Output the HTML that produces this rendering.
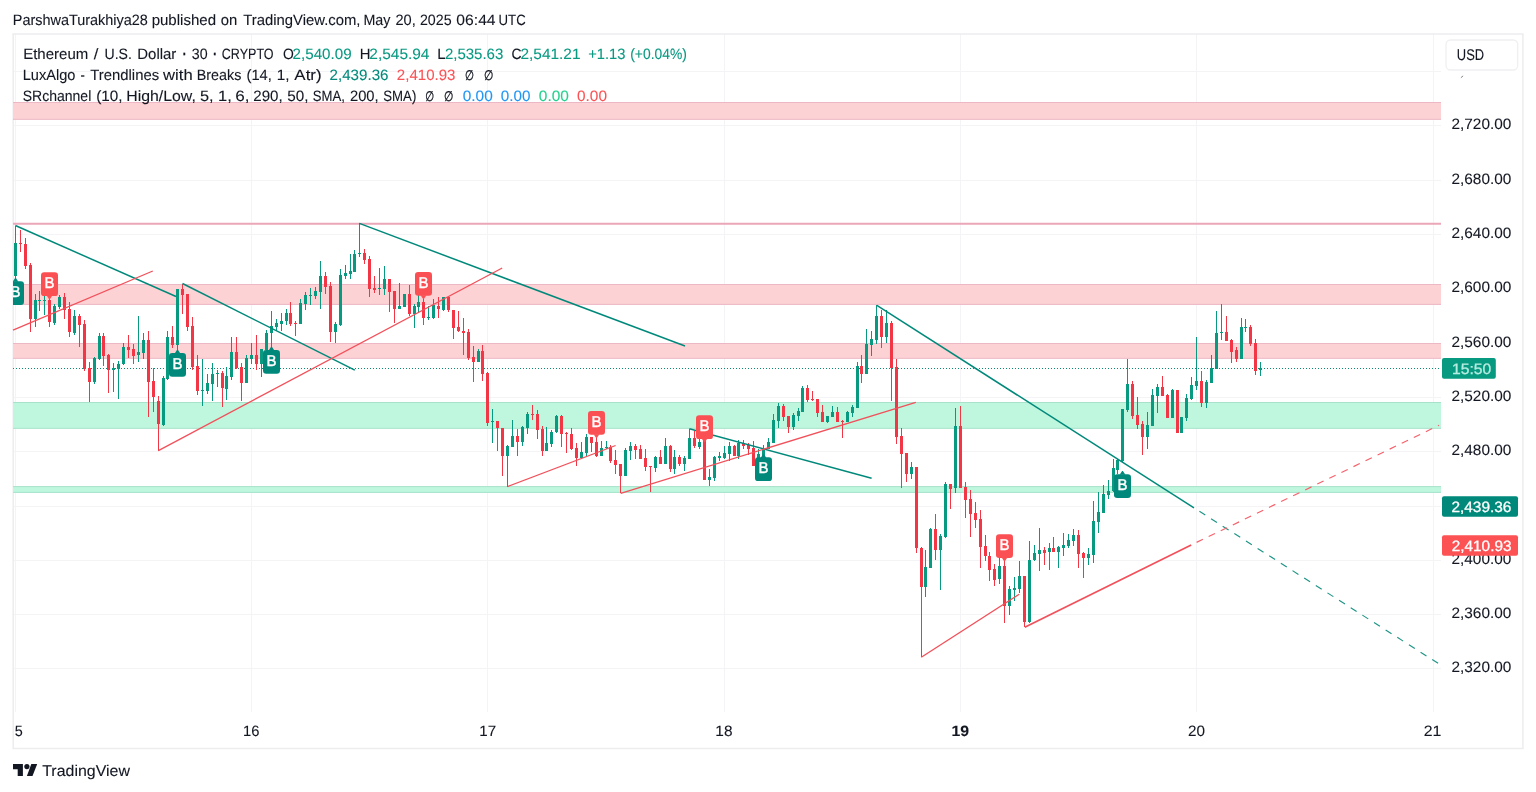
<!DOCTYPE html><html><head><meta charset="utf-8"><title>ETHUSD chart</title>
<style>html,body{margin:0;padding:0;background:#fff;width:1536px;height:792px;overflow:hidden}svg{display:block}text{font-family:"Liberation Sans",sans-serif;font-size:15px;fill:#131722;text-rendering:geometricPrecision}.ax{font-size:14px}</style></head><body>
<svg width="1536" height="792" viewBox="0 0 1536 792">
<rect width="1536" height="792" fill="#fff"/>
<g stroke="#f4f4f6" stroke-width="1" fill="none">
<line x1="13" y1="71.5" x2="1441" y2="71.5"/>
<line x1="13" y1="125.5" x2="1441" y2="125.5"/>
<line x1="13" y1="180.5" x2="1441" y2="180.5"/>
<line x1="13" y1="234.5" x2="1441" y2="234.5"/>
<line x1="13" y1="288.5" x2="1441" y2="288.5"/>
<line x1="13" y1="343.5" x2="1441" y2="343.5"/>
<line x1="13" y1="397.5" x2="1441" y2="397.5"/>
<line x1="13" y1="451.5" x2="1441" y2="451.5"/>
<line x1="13" y1="506.5" x2="1441" y2="506.5"/>
<line x1="13" y1="560.5" x2="1441" y2="560.5"/>
<line x1="13" y1="614.5" x2="1441" y2="614.5"/>
<line x1="13" y1="668.5" x2="1441" y2="668.5"/>
<line x1="15.5" y1="34" x2="15.5" y2="712"/>
<line x1="251.5" y1="34" x2="251.5" y2="712"/>
<line x1="487.5" y1="34" x2="487.5" y2="712"/>
<line x1="724.5" y1="34" x2="724.5" y2="712"/>
<line x1="960.5" y1="34" x2="960.5" y2="712"/>
<line x1="1196.5" y1="34" x2="1196.5" y2="712"/>
<line x1="1433.5" y1="34" x2="1433.5" y2="712"/>
</g>
<g stroke="#ededf0" stroke-width="1.5" fill="none"><line x1="12.4" y1="34.1" x2="1523.6" y2="34.1"/><line x1="13.2" y1="34" x2="13.2" y2="748"/><line x1="1522.9" y1="34" x2="1522.9" y2="748.5"/><line x1="12.4" y1="748.4" x2="1523.6" y2="748.4"/></g>
<rect x="13" y="102.2" width="1428" height="17.4" fill="#fdd2d4"/>
<path d="M13 102.5H1441M13 119.3H1441" stroke="#ecb8c5" stroke-width="1"/>
<rect x="13" y="284.2" width="1428" height="20.5" fill="#fdd2d4"/>
<path d="M13 284.5H1441M13 304.4H1441" stroke="#ecb8c5" stroke-width="1"/>
<rect x="13" y="343.2" width="1428" height="15.4" fill="#fdd2d4"/>
<path d="M13 343.5H1441M13 358.3H1441" stroke="#ecb8c5" stroke-width="1"/>
<rect x="13" y="402.2" width="1428" height="26.4" fill="#bef7de"/>
<path d="M13 402.5H1441M13 428.3H1441" stroke="#a8e2cb" stroke-width="1"/>
<rect x="13" y="486.3" width="1428" height="6.4" fill="#bef7de"/>
<path d="M13 486.6H1441M13 492.4H1441" stroke="#a8e2cb" stroke-width="1"/>
<line x1="13" y1="223.8" x2="1441" y2="223.8" stroke="#eba6b8" stroke-width="1.9"/>
<line x1="13" y1="368.5" x2="1441" y2="368.5" stroke="#0b8a74" stroke-width="1" stroke-dasharray="1 2"/>
<path d="M15 226h1V243h-1zM15 276h1V279h-1zM14 243h3V276h-3z" fill="#089981"/>
<path d="M20 230h1V243h-1zM20 244h1V252h-1zM19 243h3V244h-3z" fill="#f23645"/>
<path d="M25 238h1V244h-1zM25 266h1V269h-1zM24 244h3V266h-3z" fill="#f23645"/>
<path d="M30 263h1V265h-1zM30 319h1V332h-1zM29 265h3V319h-3z" fill="#f23645"/>
<path d="M35 294h1V300h-1zM35 319h1V327h-1zM34 300h3V319h-3z" fill="#089981"/>
<path d="M39 291h1V300h-1zM39 301h1V311h-1zM38 300h3V301h-3z" fill="#089981"/>
<path d="M44 295h1V300h-1zM44 301h1V315h-1zM43 300h3V301h-3z" fill="#089981"/>
<path d="M49 297h1V300h-1zM49 322h1V327h-1zM48 300h3V322h-3z" fill="#f23645"/>
<path d="M54 304h1V306h-1zM54 323h1V325h-1zM53 306h3V323h-3z" fill="#089981"/>
<path d="M59 295h1V297h-1zM59 307h1V309h-1zM58 297h3V307h-3z" fill="#089981"/>
<path d="M64 293h1V297h-1zM64 310h1V319h-1zM63 297h3V310h-3z" fill="#f23645"/>
<path d="M69 302h1V309h-1zM69 332h1V337h-1zM68 309h3V332h-3z" fill="#f23645"/>
<path d="M74 310h1V316h-1zM74 333h1V335h-1zM73 316h3V333h-3z" fill="#089981"/>
<path d="M79 314h1V316h-1zM79 325h1V347h-1zM78 316h3V325h-3z" fill="#f23645"/>
<path d="M84 320h1V324h-1zM84 369h1V371h-1zM83 324h3V369h-3z" fill="#f23645"/>
<path d="M89 362h1V368h-1zM89 382h1V402h-1zM88 368h3V382h-3z" fill="#f23645"/>
<path d="M94 357h1V358h-1zM94 382h1V384h-1zM93 358h3V382h-3z" fill="#089981"/>
<path d="M99 333h1V336h-1zM99 359h1V360h-1zM98 336h3V359h-3z" fill="#089981"/>
<path d="M103 333h1V336h-1zM103 356h1V366h-1zM102 336h3V356h-3z" fill="#f23645"/>
<path d="M108 354h1V355h-1zM108 370h1V393h-1zM107 355h3V370h-3z" fill="#f23645"/>
<path d="M113 363h1V368h-1zM113 370h1V392h-1zM112 368h3V370h-3z" fill="#089981"/>
<path d="M118 361h1V364h-1zM118 369h1V399h-1zM117 364h3V369h-3z" fill="#089981"/>
<path d="M123 343h1V347h-1zM123 364h1V365h-1zM122 347h3V364h-3z" fill="#089981"/>
<path d="M128 335h1V347h-1zM128 350h1V358h-1zM127 347h3V350h-3z" fill="#f23645"/>
<path d="M133 344h1V349h-1zM133 356h1V364h-1zM132 349h3V356h-3z" fill="#f23645"/>
<path d="M138 316h1V352h-1zM138 355h1V362h-1zM137 352h3V355h-3z" fill="#089981"/>
<path d="M143 333h1V340h-1zM143 353h1V359h-1zM142 340h3V353h-3z" fill="#089981"/>
<path d="M148 331h1V340h-1zM148 382h1V417h-1zM147 340h3V382h-3z" fill="#f23645"/>
<path d="M153 368h1V381h-1zM153 397h1V412h-1zM152 381h3V397h-3z" fill="#f23645"/>
<path d="M158 396h1V401h-1zM158 424h1V451h-1zM157 401h3V424h-3z" fill="#f23645"/>
<path d="M163 376h1V378h-1zM163 425h1V426h-1zM162 378h3V425h-3z" fill="#089981"/>
<path d="M167 331h1V337h-1zM167 379h1V380h-1zM166 337h3V379h-3z" fill="#089981"/>
<path d="M172 326h1V337h-1zM172 345h1V348h-1zM171 337h3V345h-3z" fill="#f23645"/>
<path d="M177 345h1V351h-1zM176 289h3V345h-3z" fill="#089981"/>
<path d="M182 284h1V289h-1zM182 295h1V314h-1zM181 289h3V295h-3z" fill="#f23645"/>
<path d="M187 327h1V331h-1zM186 294h3V327h-3z" fill="#f23645"/>
<path d="M192 317h1V326h-1zM192 367h1V370h-1zM191 326h3V367h-3z" fill="#f23645"/>
<path d="M197 355h1V366h-1zM197 391h1V395h-1zM196 366h3V391h-3z" fill="#f23645"/>
<path d="M202 359h1V390h-1zM202 391h1V406h-1zM201 390h3V391h-3z" fill="#089981"/>
<path d="M207 374h1V383h-1zM207 391h1V394h-1zM206 383h3V391h-3z" fill="#089981"/>
<path d="M212 363h1V374h-1zM212 384h1V401h-1zM211 374h3V384h-3z" fill="#089981"/>
<path d="M217 370h1V373h-1zM217 374h1V387h-1zM216 373h3V374h-3z" fill="#089981"/>
<path d="M222 371h1V373h-1zM222 388h1V407h-1zM221 373h3V388h-3z" fill="#f23645"/>
<path d="M226 367h1V376h-1zM226 389h1V400h-1zM225 376h3V389h-3z" fill="#089981"/>
<path d="M231 337h1V352h-1zM231 377h1V380h-1zM230 352h3V377h-3z" fill="#089981"/>
<path d="M236 337h1V352h-1zM236 368h1V369h-1zM235 352h3V368h-3z" fill="#f23645"/>
<path d="M241 363h1V367h-1zM241 383h1V401h-1zM240 367h3V383h-3z" fill="#f23645"/>
<path d="M246 355h1V358h-1zM245 358h3V383h-3z" fill="#089981"/>
<path d="M251 343h1V355h-1zM251 359h1V364h-1zM250 355h3V359h-3z" fill="#089981"/>
<path d="M256 335h1V355h-1zM256 364h1V370h-1zM255 355h3V364h-3z" fill="#f23645"/>
<path d="M261 364h1V377h-1zM260 349h3V364h-3z" fill="#089981"/>
<path d="M266 330h1V333h-1zM266 350h1V351h-1zM265 333h3V350h-3z" fill="#089981"/>
<path d="M271 311h1V326h-1zM271 333h1V348h-1zM270 326h3V333h-3z" fill="#089981"/>
<path d="M276 319h1V323h-1zM276 327h1V331h-1zM275 323h3V327h-3z" fill="#089981"/>
<path d="M281 313h1V321h-1zM281 324h1V331h-1zM280 321h3V324h-3z" fill="#089981"/>
<path d="M286 309h1V313h-1zM286 321h1V325h-1zM285 313h3V321h-3z" fill="#089981"/>
<path d="M290 302h1V313h-1zM290 324h1V326h-1zM289 313h3V324h-3z" fill="#f23645"/>
<path d="M295 321h1V323h-1zM295 324h1V336h-1zM294 323h3V324h-3z" fill="#f23645"/>
<path d="M300 299h1V303h-1zM299 303h3V324h-3z" fill="#089981"/>
<path d="M305 292h1V295h-1zM305 304h1V310h-1zM304 295h3V304h-3z" fill="#089981"/>
<path d="M310 288h1V295h-1zM310 296h1V305h-1zM309 295h3V296h-3z" fill="#089981"/>
<path d="M315 287h1V291h-1zM315 296h1V299h-1zM314 291h3V296h-3z" fill="#089981"/>
<path d="M320 261h1V276h-1zM320 292h1V309h-1zM319 276h3V292h-3z" fill="#089981"/>
<path d="M325 272h1V276h-1zM325 287h1V294h-1zM324 276h3V287h-3z" fill="#f23645"/>
<path d="M330 282h1V286h-1zM330 332h1V342h-1zM329 286h3V332h-3z" fill="#f23645"/>
<path d="M335 322h1V324h-1zM335 332h1V343h-1zM334 324h3V332h-3z" fill="#089981"/>
<path d="M340 269h1V275h-1zM340 325h1V326h-1zM339 275h3V325h-3z" fill="#089981"/>
<path d="M345 265h1V273h-1zM345 276h1V279h-1zM344 273h3V276h-3z" fill="#089981"/>
<path d="M350 254h1V271h-1zM350 274h1V279h-1zM349 271h3V274h-3z" fill="#089981"/>
<path d="M354 250h1V254h-1zM353 254h3V272h-3z" fill="#089981"/>
<path d="M359 223h1V253h-1zM359 254h1V257h-1zM358 253h3V254h-3z" fill="#089981"/>
<path d="M364 249h1V253h-1zM364 260h1V264h-1zM363 253h3V260h-3z" fill="#f23645"/>
<path d="M369 256h1V259h-1zM369 289h1V297h-1zM368 259h3V289h-3z" fill="#f23645"/>
<path d="M374 276h1V288h-1zM374 290h1V293h-1zM373 288h3V290h-3z" fill="#f23645"/>
<path d="M379 268h1V288h-1zM379 289h1V295h-1zM378 288h3V289h-3z" fill="#089981"/>
<path d="M384 266h1V279h-1zM384 289h1V295h-1zM383 279h3V289h-3z" fill="#089981"/>
<path d="M389 292h1V312h-1zM388 279h3V292h-3z" fill="#f23645"/>
<path d="M394 309h1V323h-1zM393 291h3V309h-3z" fill="#f23645"/>
<path d="M399 283h1V306h-1zM398 306h3V309h-3z" fill="#089981"/>
<path d="M403 294h3V307h-3z" fill="#089981"/>
<path d="M409 285h1V294h-1zM409 314h1V316h-1zM408 294h3V314h-3z" fill="#f23645"/>
<path d="M414 304h1V306h-1zM414 314h1V328h-1zM413 306h3V314h-3z" fill="#089981"/>
<path d="M418 294h1V302h-1zM418 307h1V313h-1zM417 302h3V307h-3z" fill="#089981"/>
<path d="M423 299h1V302h-1zM423 318h1V325h-1zM422 302h3V318h-3z" fill="#f23645"/>
<path d="M428 306h1V317h-1zM428 318h1V320h-1zM427 317h3V318h-3z" fill="#089981"/>
<path d="M433 299h1V305h-1zM433 318h1V319h-1zM432 305h3V318h-3z" fill="#089981"/>
<path d="M438 297h1V306h-1zM438 309h1V318h-1zM437 306h3V309h-3z" fill="#f23645"/>
<path d="M443 310h1V311h-1zM442 297h3V310h-3z" fill="#089981"/>
<path d="M448 296h1V297h-1zM448 310h1V312h-1zM447 297h3V310h-3z" fill="#f23645"/>
<path d="M453 328h1V339h-1zM452 310h3V328h-3z" fill="#f23645"/>
<path d="M458 311h1V327h-1zM458 331h1V332h-1zM457 327h3V331h-3z" fill="#f23645"/>
<path d="M463 318h1V331h-1zM463 333h1V355h-1zM462 331h3V333h-3z" fill="#f23645"/>
<path d="M468 329h1V332h-1zM468 358h1V360h-1zM467 332h3V358h-3z" fill="#f23645"/>
<path d="M473 346h1V357h-1zM473 362h1V382h-1zM472 357h3V362h-3z" fill="#f23645"/>
<path d="M478 349h1V351h-1zM477 351h3V362h-3z" fill="#089981"/>
<path d="M482 345h1V351h-1zM482 374h1V381h-1zM481 351h3V374h-3z" fill="#f23645"/>
<path d="M487 372h1V373h-1zM487 423h1V426h-1zM486 373h3V423h-3z" fill="#f23645"/>
<path d="M492 409h1V421h-1zM492 422h1V443h-1zM491 421h3V422h-3z" fill="#089981"/>
<path d="M497 428h1V451h-1zM496 421h3V428h-3z" fill="#f23645"/>
<path d="M502 456h1V476h-1zM501 428h3V456h-3z" fill="#f23645"/>
<path d="M507 445h1V446h-1zM507 456h1V487h-1zM506 446h3V456h-3z" fill="#089981"/>
<path d="M512 420h1V436h-1zM511 436h3V447h-3z" fill="#089981"/>
<path d="M517 429h1V436h-1zM517 442h1V456h-1zM516 436h3V442h-3z" fill="#f23645"/>
<path d="M522 426h1V427h-1zM522 442h1V446h-1zM521 427h3V442h-3z" fill="#089981"/>
<path d="M527 412h1V414h-1zM527 428h1V434h-1zM526 414h3V428h-3z" fill="#089981"/>
<path d="M532 405h1V414h-1zM532 415h1V420h-1zM531 414h3V415h-3z" fill="#f23645"/>
<path d="M537 410h1V414h-1zM537 430h1V439h-1zM536 414h3V430h-3z" fill="#f23645"/>
<path d="M542 426h1V429h-1zM542 451h1V456h-1zM541 429h3V451h-3z" fill="#f23645"/>
<path d="M546 427h1V443h-1zM545 443h3V451h-3z" fill="#089981"/>
<path d="M551 430h1V432h-1zM551 444h1V447h-1zM550 432h3V444h-3z" fill="#089981"/>
<path d="M556 415h1V416h-1zM556 432h1V433h-1zM555 416h3V432h-3z" fill="#089981"/>
<path d="M561 415h1V416h-1zM561 434h1V447h-1zM560 416h3V434h-3z" fill="#f23645"/>
<path d="M566 432h1V433h-1zM566 434h1V453h-1zM565 433h3V434h-3z" fill="#f23645"/>
<path d="M571 428h1V434h-1zM571 449h1V450h-1zM570 434h3V449h-3z" fill="#f23645"/>
<path d="M576 443h1V448h-1zM576 458h1V466h-1zM575 448h3V458h-3z" fill="#f23645"/>
<path d="M581 442h1V452h-1zM580 452h3V458h-3z" fill="#089981"/>
<path d="M586 434h1V437h-1zM586 453h1V456h-1zM585 437h3V453h-3z" fill="#089981"/>
<path d="M591 443h1V452h-1zM590 437h3V443h-3z" fill="#f23645"/>
<path d="M596 438h1V442h-1zM596 456h1V457h-1zM595 442h3V456h-3z" fill="#f23645"/>
<path d="M601 441h1V448h-1zM600 448h3V456h-3z" fill="#089981"/>
<path d="M606 441h1V447h-1zM606 448h1V449h-1zM605 447h3V448h-3z" fill="#089981"/>
<path d="M610 445h1V447h-1zM610 461h1V463h-1zM609 447h3V461h-3z" fill="#f23645"/>
<path d="M615 450h1V460h-1zM615 465h1V474h-1zM614 460h3V465h-3z" fill="#f23645"/>
<path d="M620 476h1V493h-1zM619 464h3V476h-3z" fill="#f23645"/>
<path d="M625 448h1V450h-1zM624 450h3V476h-3z" fill="#089981"/>
<path d="M630 442h1V446h-1zM630 451h1V460h-1zM629 446h3V451h-3z" fill="#089981"/>
<path d="M635 444h1V446h-1zM635 450h1V459h-1zM634 446h3V450h-3z" fill="#f23645"/>
<path d="M640 445h1V449h-1zM639 449h3V459h-3z" fill="#f23645"/>
<path d="M645 449h1V458h-1zM645 467h1V471h-1zM644 458h3V467h-3z" fill="#f23645"/>
<path d="M650 467h1V492h-1zM649 466h3V467h-3z" fill="#f23645"/>
<path d="M655 456h1V457h-1zM655 468h1V472h-1zM654 457h3V468h-3z" fill="#089981"/>
<path d="M660 450h1V457h-1zM659 457h3V464h-3z" fill="#f23645"/>
<path d="M665 438h1V446h-1zM664 446h3V464h-3z" fill="#089981"/>
<path d="M670 445h1V446h-1zM670 469h1V472h-1zM669 446h3V469h-3z" fill="#f23645"/>
<path d="M674 450h1V457h-1zM674 469h1V474h-1zM673 457h3V469h-3z" fill="#089981"/>
<path d="M679 455h1V457h-1zM679 464h1V466h-1zM678 457h3V464h-3z" fill="#f23645"/>
<path d="M684 456h1V458h-1zM684 464h1V471h-1zM683 458h3V464h-3z" fill="#089981"/>
<path d="M689 429h1V438h-1zM688 438h3V459h-3z" fill="#089981"/>
<path d="M694 431h1V438h-1zM694 446h1V448h-1zM693 438h3V446h-3z" fill="#f23645"/>
<path d="M699 436h1V442h-1zM699 447h1V449h-1zM698 442h3V447h-3z" fill="#089981"/>
<path d="M703 440h3V480h-3z" fill="#f23645"/>
<path d="M709 469h1V477h-1zM709 480h1V486h-1zM708 477h3V480h-3z" fill="#089981"/>
<path d="M714 456h1V457h-1zM714 478h1V481h-1zM713 457h3V478h-3z" fill="#089981"/>
<path d="M719 452h1V456h-1zM719 458h1V461h-1zM718 456h3V458h-3z" fill="#089981"/>
<path d="M724 446h1V453h-1zM724 458h1V459h-1zM723 453h3V458h-3z" fill="#089981"/>
<path d="M729 442h1V446h-1zM729 454h1V461h-1zM728 446h3V454h-3z" fill="#089981"/>
<path d="M734 445h1V446h-1zM733 446h3V456h-3z" fill="#f23645"/>
<path d="M738 440h1V443h-1zM738 456h1V459h-1zM737 443h3V456h-3z" fill="#089981"/>
<path d="M743 440h1V443h-1zM743 446h1V449h-1zM742 443h3V446h-3z" fill="#f23645"/>
<path d="M748 443h1V445h-1zM748 449h1V455h-1zM747 445h3V449h-3z" fill="#f23645"/>
<path d="M753 441h1V448h-1zM752 448h3V466h-3z" fill="#f23645"/>
<path d="M758 449h1V454h-1zM757 454h3V466h-3z" fill="#089981"/>
<path d="M763 445h1V449h-1zM762 449h3V456h-3z" fill="#089981"/>
<path d="M768 438h1V442h-1zM767 442h3V449h-3z" fill="#089981"/>
<path d="M773 414h1V420h-1zM772 420h3V443h-3z" fill="#089981"/>
<path d="M778 403h1V406h-1zM778 421h1V428h-1zM777 406h3V421h-3z" fill="#089981"/>
<path d="M783 404h1V406h-1zM783 417h1V421h-1zM782 406h3V417h-3z" fill="#f23645"/>
<path d="M788 427h1V433h-1zM787 416h3V427h-3z" fill="#f23645"/>
<path d="M793 413h1V415h-1zM793 427h1V430h-1zM792 415h3V427h-3z" fill="#089981"/>
<path d="M798 408h1V411h-1zM798 416h1V421h-1zM797 411h3V416h-3z" fill="#089981"/>
<path d="M802 386h1V388h-1zM801 388h3V412h-3z" fill="#089981"/>
<path d="M807 385h1V388h-1zM807 400h1V402h-1zM806 388h3V400h-3z" fill="#f23645"/>
<path d="M812 391h1V399h-1zM812 400h1V401h-1zM811 399h3V400h-3z" fill="#f23645"/>
<path d="M817 413h1V417h-1zM816 399h3V413h-3z" fill="#f23645"/>
<path d="M822 405h1V412h-1zM821 412h3V422h-3z" fill="#f23645"/>
<path d="M827 422h1V423h-1zM826 416h3V422h-3z" fill="#089981"/>
<path d="M832 406h1V412h-1zM831 412h3V417h-3z" fill="#089981"/>
<path d="M837 407h1V412h-1zM836 412h3V422h-3z" fill="#f23645"/>
<path d="M842 420h1V421h-1zM842 422h1V438h-1zM841 421h3V422h-3z" fill="#f23645"/>
<path d="M847 411h1V412h-1zM846 412h3V422h-3z" fill="#089981"/>
<path d="M852 405h1V407h-1zM852 413h1V417h-1zM851 407h3V413h-3z" fill="#089981"/>
<path d="M857 362h1V366h-1zM856 366h3V408h-3z" fill="#089981"/>
<path d="M861 355h1V366h-1zM861 374h1V383h-1zM860 366h3V374h-3z" fill="#f23645"/>
<path d="M866 329h1V344h-1zM865 344h3V374h-3z" fill="#089981"/>
<path d="M871 331h1V339h-1zM871 345h1V356h-1zM870 339h3V345h-3z" fill="#089981"/>
<path d="M876 305h1V316h-1zM876 340h1V344h-1zM875 316h3V340h-3z" fill="#089981"/>
<path d="M881 310h1V316h-1zM881 337h1V348h-1zM880 316h3V337h-3z" fill="#f23645"/>
<path d="M886 310h1V323h-1zM886 337h1V343h-1zM885 323h3V337h-3z" fill="#089981"/>
<path d="M891 321h1V323h-1zM891 368h1V401h-1zM890 323h3V368h-3z" fill="#f23645"/>
<path d="M896 359h1V367h-1zM896 437h1V444h-1zM895 367h3V437h-3z" fill="#f23645"/>
<path d="M901 428h1V436h-1zM901 454h1V488h-1zM900 436h3V454h-3z" fill="#f23645"/>
<path d="M906 474h1V482h-1zM905 453h3V474h-3z" fill="#f23645"/>
<path d="M911 462h1V467h-1zM911 474h1V479h-1zM910 467h3V474h-3z" fill="#089981"/>
<path d="M916 548h1V553h-1zM915 467h3V548h-3z" fill="#f23645"/>
<path d="M921 547h1V548h-1zM921 587h1V657h-1zM920 548h3V587h-3z" fill="#f23645"/>
<path d="M925 550h1V567h-1zM925 587h1V597h-1zM924 567h3V587h-3z" fill="#089981"/>
<path d="M930 528h1V529h-1zM929 529h3V568h-3z" fill="#089981"/>
<path d="M935 514h1V529h-1zM935 550h1V560h-1zM934 529h3V550h-3z" fill="#f23645"/>
<path d="M940 534h1V536h-1zM940 550h1V590h-1zM939 536h3V550h-3z" fill="#089981"/>
<path d="M945 482h1V484h-1zM945 537h1V538h-1zM944 484h3V537h-3z" fill="#089981"/>
<path d="M950 489h1V509h-1zM949 484h3V489h-3z" fill="#f23645"/>
<path d="M955 408h1V426h-1zM955 488h1V493h-1zM954 426h3V488h-3z" fill="#089981"/>
<path d="M960 406h1V426h-1zM959 426h3V488h-3z" fill="#f23645"/>
<path d="M965 482h1V487h-1zM965 500h1V518h-1zM964 487h3V500h-3z" fill="#f23645"/>
<path d="M970 490h1V499h-1zM970 514h1V537h-1zM969 499h3V514h-3z" fill="#f23645"/>
<path d="M975 502h1V513h-1zM975 520h1V528h-1zM974 513h3V520h-3z" fill="#f23645"/>
<path d="M980 510h1V519h-1zM980 547h1V568h-1zM979 519h3V547h-3z" fill="#f23645"/>
<path d="M985 535h1V546h-1zM985 556h1V561h-1zM984 546h3V556h-3z" fill="#f23645"/>
<path d="M989 552h1V556h-1zM989 570h1V581h-1zM988 556h3V570h-3z" fill="#f23645"/>
<path d="M994 564h1V569h-1zM994 580h1V586h-1zM993 569h3V580h-3z" fill="#f23645"/>
<path d="M999 552h1V566h-1zM999 579h1V584h-1zM998 566h3V579h-3z" fill="#089981"/>
<path d="M1004 559h1V566h-1zM1004 606h1V623h-1zM1003 566h3V606h-3z" fill="#f23645"/>
<path d="M1009 586h1V589h-1zM1009 606h1V615h-1zM1008 589h3V606h-3z" fill="#089981"/>
<path d="M1014 577h1V588h-1zM1014 590h1V601h-1zM1013 588h3V590h-3z" fill="#089981"/>
<path d="M1019 561h1V576h-1zM1019 589h1V593h-1zM1018 576h3V589h-3z" fill="#089981"/>
<path d="M1024 622h1V627h-1zM1023 576h3V622h-3z" fill="#f23645"/>
<path d="M1029 541h1V560h-1zM1029 622h1V623h-1zM1028 560h3V622h-3z" fill="#089981"/>
<path d="M1034 545h1V553h-1zM1034 560h1V561h-1zM1033 553h3V560h-3z" fill="#089981"/>
<path d="M1039 528h1V550h-1zM1039 554h1V571h-1zM1038 550h3V554h-3z" fill="#089981"/>
<path d="M1044 547h1V550h-1zM1044 553h1V565h-1zM1043 550h3V553h-3z" fill="#f23645"/>
<path d="M1049 543h1V548h-1zM1049 552h1V570h-1zM1048 548h3V552h-3z" fill="#089981"/>
<path d="M1053 537h1V548h-1zM1052 548h3V552h-3z" fill="#f23645"/>
<path d="M1058 546h1V547h-1zM1058 552h1V568h-1zM1057 547h3V552h-3z" fill="#089981"/>
<path d="M1063 533h1V545h-1zM1063 548h1V556h-1zM1062 545h3V548h-3z" fill="#089981"/>
<path d="M1068 534h1V540h-1zM1068 546h1V548h-1zM1067 540h3V546h-3z" fill="#089981"/>
<path d="M1073 529h1V535h-1zM1073 541h1V546h-1zM1072 535h3V541h-3z" fill="#089981"/>
<path d="M1078 530h1V535h-1zM1078 554h1V568h-1zM1077 535h3V554h-3z" fill="#f23645"/>
<path d="M1083 552h1V553h-1zM1083 558h1V578h-1zM1082 553h3V558h-3z" fill="#f23645"/>
<path d="M1088 548h1V554h-1zM1088 558h1V565h-1zM1087 554h3V558h-3z" fill="#089981"/>
<path d="M1093 501h1V521h-1zM1093 555h1V563h-1zM1092 521h3V555h-3z" fill="#089981"/>
<path d="M1098 492h1V512h-1zM1098 522h1V533h-1zM1097 512h3V522h-3z" fill="#089981"/>
<path d="M1103 485h1V494h-1zM1102 494h3V513h-3z" fill="#089981"/>
<path d="M1108 480h1V491h-1zM1108 495h1V499h-1zM1107 491h3V495h-3z" fill="#089981"/>
<path d="M1113 459h1V468h-1zM1113 491h1V492h-1zM1112 468h3V491h-3z" fill="#089981"/>
<path d="M1117 459h1V460h-1zM1117 470h1V474h-1zM1116 460h3V470h-3z" fill="#089981"/>
<path d="M1122 461h1V462h-1zM1121 409h3V461h-3z" fill="#089981"/>
<path d="M1127 359h1V384h-1zM1127 410h1V412h-1zM1126 384h3V410h-3z" fill="#089981"/>
<path d="M1132 381h1V384h-1zM1132 416h1V419h-1zM1131 384h3V416h-3z" fill="#f23645"/>
<path d="M1137 397h1V415h-1zM1137 425h1V429h-1zM1136 415h3V425h-3z" fill="#f23645"/>
<path d="M1142 421h1V424h-1zM1142 437h1V455h-1zM1141 424h3V437h-3z" fill="#f23645"/>
<path d="M1147 412h1V425h-1zM1147 437h1V449h-1zM1146 425h3V437h-3z" fill="#089981"/>
<path d="M1152 389h1V395h-1zM1151 395h3V426h-3z" fill="#089981"/>
<path d="M1157 384h1V387h-1zM1157 396h1V413h-1zM1156 387h3V396h-3z" fill="#089981"/>
<path d="M1162 376h1V387h-1zM1161 387h3V396h-3z" fill="#f23645"/>
<path d="M1167 394h1V395h-1zM1166 395h3V418h-3z" fill="#f23645"/>
<path d="M1172 389h1V390h-1zM1171 390h3V418h-3z" fill="#089981"/>
<path d="M1176 390h3V433h-3z" fill="#f23645"/>
<path d="M1180 417h3V433h-3z" fill="#089981"/>
<path d="M1186 394h1V398h-1zM1186 418h1V421h-1zM1185 398h3V418h-3z" fill="#089981"/>
<path d="M1191 377h1V385h-1zM1191 399h1V400h-1zM1190 385h3V399h-3z" fill="#089981"/>
<path d="M1196 337h1V381h-1zM1196 386h1V390h-1zM1195 381h3V386h-3z" fill="#089981"/>
<path d="M1201 371h1V381h-1zM1201 403h1V407h-1zM1200 381h3V403h-3z" fill="#f23645"/>
<path d="M1206 380h1V382h-1zM1206 403h1V408h-1zM1205 382h3V403h-3z" fill="#089981"/>
<path d="M1211 355h1V368h-1zM1210 368h3V383h-3z" fill="#089981"/>
<path d="M1216 311h1V333h-1zM1215 333h3V369h-3z" fill="#089981"/>
<path d="M1221 304h1V332h-1zM1221 333h1V340h-1zM1220 332h3V333h-3z" fill="#089981"/>
<path d="M1226 316h1V332h-1zM1225 332h3V341h-3z" fill="#f23645"/>
<path d="M1231 339h1V340h-1zM1231 352h1V363h-1zM1230 340h3V352h-3z" fill="#f23645"/>
<path d="M1236 347h1V350h-1zM1236 359h1V362h-1zM1235 350h3V359h-3z" fill="#f23645"/>
<path d="M1241 318h1V327h-1zM1240 327h3V359h-3z" fill="#089981"/>
<path d="M1245 319h1V327h-1zM1245 328h1V332h-1zM1244 327h3V328h-3z" fill="#089981"/>
<path d="M1250 325h1V327h-1zM1250 344h1V346h-1zM1249 327h3V344h-3z" fill="#f23645"/>
<path d="M1255 339h1V343h-1zM1255 371h1V375h-1zM1254 343h3V371h-3z" fill="#f23645"/>
<path d="M1260 362h1V368h-1zM1260 370h1V376h-1zM1259 368h3V370h-3z" fill="#089981"/>
<line x1="15.4" y1="225.5" x2="176" y2="296.5" stroke="#00897b" stroke-width="1.5"/>
<line x1="182.5" y1="283.5" x2="354.8" y2="370.2" stroke="#00897b" stroke-width="1.5"/>
<line x1="359.4" y1="223.4" x2="685" y2="346" stroke="#00897b" stroke-width="1.5"/>
<line x1="689.4" y1="428.8" x2="871.6" y2="478.2" stroke="#00897b" stroke-width="1.5"/>
<line x1="876.9" y1="305.4" x2="1194" y2="507.9" stroke="#00897b" stroke-width="1.5"/>
<line x1="13" y1="330.2" x2="152.8" y2="271" stroke="#f2505a" stroke-width="1.3"/>
<line x1="158.4" y1="450.6" x2="502.2" y2="268" stroke="#f2505a" stroke-width="1.3"/>
<line x1="507.5" y1="486.6" x2="615.6" y2="445.5" stroke="#f2505a" stroke-width="1.3"/>
<line x1="620.7" y1="493.3" x2="915.8" y2="402.3" stroke="#f2505a" stroke-width="1.3"/>
<line x1="921.3" y1="657.2" x2="1019.3" y2="594.2" stroke="#f2505a" stroke-width="1.3"/>
<line x1="1024.8" y1="627.2" x2="1191.2" y2="545.0" stroke="#f2505a" stroke-width="1.7"/>
<line x1="1194" y1="507.9" x2="1438.5" y2="663.6" stroke="#1c9485" stroke-width="1.15" stroke-dasharray="7 6.8" stroke-dashoffset="7.4"/>
<line x1="1191.2" y1="545.0" x2="1439" y2="425.3" stroke="#f7606a" stroke-width="1.15" stroke-dasharray="7 6.4" stroke-dashoffset="7.4"/>
<clipPath id="cp"><rect x="13" y="34" width="1428" height="714"/></clipPath><g clip-path="url(#cp)">
<path d="M12.6 281.8L15.1 278.0h0.8L18.4 281.8Z" fill="#00897b"/>
<rect x="7.0" y="281.2" width="17" height="23.8" rx="3.2" fill="#00897b"/>
<path d="M46.6 295.5L49.1 299.3h0.8L52.4 295.5Z" fill="#fb5053"/>
<rect x="41.0" y="272.3" width="17" height="23.8" rx="3.2" fill="#fb5053"/>
<path d="M174.6 353.5L177.1 349.7h0.8L180.4 353.5Z" fill="#00897b"/>
<rect x="169.0" y="352.9" width="17" height="23.8" rx="3.2" fill="#00897b"/>
<path d="M268.6 350.6L271.1 346.8h0.8L274.4 350.6Z" fill="#00897b"/>
<rect x="263.0" y="350.0" width="17" height="23.8" rx="3.2" fill="#00897b"/>
<path d="M420.6 295.2L423.1 299.0h0.8L426.4 295.2Z" fill="#fb5053"/>
<rect x="415.0" y="272.0" width="17" height="23.8" rx="3.2" fill="#fb5053"/>
<path d="M593.6 434.2L596.1 438.0h0.8L599.4 434.2Z" fill="#fb5053"/>
<rect x="588.0" y="411.0" width="17" height="23.8" rx="3.2" fill="#fb5053"/>
<path d="M701.6 438.5L704.1 442.3h0.8L707.4 438.5Z" fill="#fb5053"/>
<rect x="696.0" y="415.3" width="17" height="23.8" rx="3.2" fill="#fb5053"/>
<path d="M760.6 457.90000000000003L763.1 454.1h0.8L766.4 457.90000000000003Z" fill="#00897b"/>
<rect x="755.0" y="457.3" width="17" height="23.8" rx="3.2" fill="#00897b"/>
<path d="M1001.6 557.4L1004.1 561.2h0.8L1007.4 557.4Z" fill="#fb5053"/>
<rect x="996.0" y="534.2" width="17" height="23.8" rx="3.2" fill="#fb5053"/>
<path d="M1119.6 474.8L1122.1 471.0h0.8L1125.4 474.8Z" fill="#00897b"/>
<rect x="1114.0" y="474.2" width="17" height="23.8" rx="3.2" fill="#00897b"/>
<text x="10.48" y="297.0" textLength="9.99" lengthAdjust="spacingAndGlyphs" style='fill:#ffffff;font-size:15.8px;stroke:#fff;stroke-width:0.4px'>B</text>
</g>
<rect x="1446" y="40" width="71.7" height="30" rx="4.5" fill="#fff" stroke="#f0f0f2" stroke-width="1.3"/>
<path d="M1460.9 77.7L1463.1 75.9" stroke="#666" stroke-width="0.8"/>
<text x="1451.45" y="129.35" textLength="59.90" lengthAdjust="spacingAndGlyphs" style=';stroke:#131722;stroke-width:0.1px'>2,720.00</text>
<text x="1451.45" y="183.65" textLength="59.90" lengthAdjust="spacingAndGlyphs" style=';stroke:#131722;stroke-width:0.1px'>2,680.00</text>
<text x="1451.45" y="237.95" textLength="59.90" lengthAdjust="spacingAndGlyphs" style=';stroke:#131722;stroke-width:0.1px'>2,640.00</text>
<text x="1451.45" y="292.25" textLength="59.90" lengthAdjust="spacingAndGlyphs" style=';stroke:#131722;stroke-width:0.1px'>2,600.00</text>
<text x="1451.45" y="346.55" textLength="59.90" lengthAdjust="spacingAndGlyphs" style=';stroke:#131722;stroke-width:0.1px'>2,560.00</text>
<text x="1451.45" y="400.85" textLength="59.90" lengthAdjust="spacingAndGlyphs" style=';stroke:#131722;stroke-width:0.1px'>2,520.00</text>
<text x="1451.45" y="455.15" textLength="59.90" lengthAdjust="spacingAndGlyphs" style=';stroke:#131722;stroke-width:0.1px'>2,480.00</text>
<text x="1451.45" y="563.75" textLength="59.90" lengthAdjust="spacingAndGlyphs" style=';stroke:#131722;stroke-width:0.1px'>2,400.00</text>
<text x="1451.45" y="618.05" textLength="59.90" lengthAdjust="spacingAndGlyphs" style=';stroke:#131722;stroke-width:0.1px'>2,360.00</text>
<text x="1451.45" y="672.35" textLength="59.90" lengthAdjust="spacingAndGlyphs" style=';stroke:#131722;stroke-width:0.1px'>2,320.00</text>
<rect x="1442" y="358" width="53.8" height="20.8" rx="2" fill="#089981"/>
<rect x="1442" y="496.3" width="76" height="20.5" rx="2" fill="#00897b"/>
<rect x="1442" y="535.2" width="76" height="20.5" rx="2" fill="#fd5254"/>
<text x="12.77" y="24.7" textLength="135.02" lengthAdjust="spacingAndGlyphs" style=';stroke:#131722;stroke-width:0.1px'>ParshwaTurakhiya28</text>
<text x="151.65" y="24.7" textLength="64.39" lengthAdjust="spacingAndGlyphs" style=';stroke:#131722;stroke-width:0.1px'>published</text>
<text x="220.67" y="24.7" textLength="16.53" lengthAdjust="spacingAndGlyphs" style=';stroke:#131722;stroke-width:0.1px'>on</text>
<text x="243.25" y="24.7" textLength="117.21" lengthAdjust="spacingAndGlyphs" style=';stroke:#131722;stroke-width:0.1px'>TradingView.com,</text>
<text x="363.44" y="24.7" textLength="26.95" lengthAdjust="spacingAndGlyphs" style=';stroke:#131722;stroke-width:0.1px'>May</text>
<text x="395.49" y="24.7" textLength="20.30" lengthAdjust="spacingAndGlyphs" style=';stroke:#131722;stroke-width:0.1px'>20,</text>
<text x="419.94" y="24.7" textLength="31.65" lengthAdjust="spacingAndGlyphs" style=';stroke:#131722;stroke-width:0.1px'>2025</text>
<text x="456.35" y="24.7" textLength="39.23" lengthAdjust="spacingAndGlyphs" style=';stroke:#131722;stroke-width:0.1px'>06:44</text>
<text x="498.57" y="24.7" textLength="27.12" lengthAdjust="spacingAndGlyphs" style=';stroke:#131722;stroke-width:0.1px'>UTC</text>
<text x="23.17" y="58.7" textLength="65.11" lengthAdjust="spacingAndGlyphs" style=';stroke:#131722;stroke-width:0.1px'>Ethereum</text>
<text x="93.83" y="58.7" textLength="4.60" lengthAdjust="spacingAndGlyphs" style=';stroke:#131722;stroke-width:0.1px'>/</text>
<text x="104.54" y="58.7" textLength="27.42" lengthAdjust="spacingAndGlyphs" style=';stroke:#131722;stroke-width:0.1px'>U.S.</text>
<text x="137.24" y="58.7" textLength="39.13" lengthAdjust="spacingAndGlyphs" style=';stroke:#131722;stroke-width:0.1px'>Dollar</text>
<text x="191.79" y="58.7" textLength="15.81" lengthAdjust="spacingAndGlyphs" style=';stroke:#131722;stroke-width:0.1px'>30</text>
<text x="221.81" y="58.7" textLength="51.80" lengthAdjust="spacingAndGlyphs" style=';stroke:#131722;stroke-width:0.1px'>CRYPTO</text>
<text x="282.99" y="58.7" textLength="10.81" lengthAdjust="spacingAndGlyphs" style=';stroke:#131722;stroke-width:0.1px'>O</text>
<text x="359.67" y="58.7" textLength="10.76" lengthAdjust="spacingAndGlyphs" style=';stroke:#131722;stroke-width:0.1px'>H</text>
<text x="437.35" y="58.7" textLength="8.29" lengthAdjust="spacingAndGlyphs" style=';stroke:#131722;stroke-width:0.1px'>L</text>
<text x="511.59" y="58.7" textLength="10.09" lengthAdjust="spacingAndGlyphs" style=';stroke:#131722;stroke-width:0.1px'>C</text>
<text x="292.63" y="58.7" textLength="59.00" lengthAdjust="spacingAndGlyphs" style='fill:#089981;;stroke:#089981;stroke-width:0.1px'>2,540.09</text>
<text x="369.38" y="58.7" textLength="60.08" lengthAdjust="spacingAndGlyphs" style='fill:#089981;;stroke:#089981;stroke-width:0.1px'>2,545.94</text>
<text x="444.88" y="58.7" textLength="58.39" lengthAdjust="spacingAndGlyphs" style='fill:#089981;;stroke:#089981;stroke-width:0.1px'>2,535.63</text>
<text x="520.43" y="58.7" textLength="60.09" lengthAdjust="spacingAndGlyphs" style='fill:#089981;;stroke:#089981;stroke-width:0.1px'>2,541.21</text>
<text x="588.19" y="58.7" textLength="37.31" lengthAdjust="spacingAndGlyphs" style='fill:#089981;;stroke:#089981;stroke-width:0.1px'>+1.13</text>
<text x="630.26" y="58.7" textLength="56.64" lengthAdjust="spacingAndGlyphs" style='fill:#089981;;stroke:#089981;stroke-width:0.1px'>(+0.04%)</text>
<text x="182.59" y="58.7" textLength="4.29" lengthAdjust="spacingAndGlyphs" style='fill:#131722;font-weight:bold;stroke:#131722;stroke-width:0.1px'>·</text>
<text x="212.90" y="58.7" textLength="4.24" lengthAdjust="spacingAndGlyphs" style='fill:#131722;font-weight:bold;stroke:#131722;stroke-width:0.1px'>·</text>
<text x="22.71" y="79.6" textLength="52.76" lengthAdjust="spacingAndGlyphs" style=';stroke:#131722;stroke-width:0.1px'>LuxAlgo</text>
<text x="80.59" y="79.6" textLength="4.34" lengthAdjust="spacingAndGlyphs" style=';stroke:#131722;stroke-width:0.1px'>-</text>
<text x="90.25" y="79.6" textLength="68.85" lengthAdjust="spacingAndGlyphs" style=';stroke:#131722;stroke-width:0.1px'>Trendlines</text>
<text x="163.11" y="79.6" textLength="29.57" lengthAdjust="spacingAndGlyphs" style=';stroke:#131722;stroke-width:0.1px'>with</text>
<text x="196.78" y="79.6" textLength="44.53" lengthAdjust="spacingAndGlyphs" style=';stroke:#131722;stroke-width:0.1px'>Breaks</text>
<text x="246.53" y="79.6" textLength="25.32" lengthAdjust="spacingAndGlyphs" style=';stroke:#131722;stroke-width:0.1px'>(14,</text>
<text x="276.78" y="79.6" textLength="12.79" lengthAdjust="spacingAndGlyphs" style=';stroke:#131722;stroke-width:0.1px'>1,</text>
<text x="294.38" y="79.6" textLength="27.23" lengthAdjust="spacingAndGlyphs" style=';stroke:#131722;stroke-width:0.1px'>Atr)</text>
<text x="329.61" y="79.6" textLength="58.83" lengthAdjust="spacingAndGlyphs" style='fill:#00897b;;stroke:#00897b;stroke-width:0.1px'>2,439.36</text>
<text x="396.86" y="79.6" textLength="58.58" lengthAdjust="spacingAndGlyphs" style='fill:#fb5255;;stroke:#fb5255;stroke-width:0.1px'>2,410.93</text>
<text x="22.73" y="100.7" textLength="68.55" lengthAdjust="spacingAndGlyphs" style=';stroke:#131722;stroke-width:0.1px'>SRchannel</text>
<text x="96.24" y="100.7" textLength="26.32" lengthAdjust="spacingAndGlyphs" style=';stroke:#131722;stroke-width:0.1px'>(10,</text>
<text x="126.22" y="100.7" textLength="69.59" lengthAdjust="spacingAndGlyphs" style=';stroke:#131722;stroke-width:0.1px'>High/Low,</text>
<text x="200.05" y="100.7" textLength="13.60" lengthAdjust="spacingAndGlyphs" style=';stroke:#131722;stroke-width:0.1px'>5,</text>
<text x="217.96" y="100.7" textLength="13.77" lengthAdjust="spacingAndGlyphs" style=';stroke:#131722;stroke-width:0.1px'>1,</text>
<text x="235.39" y="100.7" textLength="14.25" lengthAdjust="spacingAndGlyphs" style=';stroke:#131722;stroke-width:0.1px'>6,</text>
<text x="253.22" y="100.7" textLength="29.46" lengthAdjust="spacingAndGlyphs" style=';stroke:#131722;stroke-width:0.1px'>290,</text>
<text x="287.30" y="100.7" textLength="21.16" lengthAdjust="spacingAndGlyphs" style=';stroke:#131722;stroke-width:0.1px'>50,</text>
<text x="312.76" y="100.7" textLength="32.10" lengthAdjust="spacingAndGlyphs" style=';stroke:#131722;stroke-width:0.1px'>SMA,</text>
<text x="349.97" y="100.7" textLength="28.68" lengthAdjust="spacingAndGlyphs" style=';stroke:#131722;stroke-width:0.1px'>200,</text>
<text x="383.25" y="100.7" textLength="33.04" lengthAdjust="spacingAndGlyphs" style=';stroke:#131722;stroke-width:0.1px'>SMA)</text>
<text x="462.74" y="100.7" textLength="30.02" lengthAdjust="spacingAndGlyphs" style='fill:#2196f3;;stroke:#2196f3;stroke-width:0.1px'>0.00</text>
<text x="500.82" y="100.7" textLength="29.68" lengthAdjust="spacingAndGlyphs" style='fill:#2196f3;;stroke:#2196f3;stroke-width:0.1px'>0.00</text>
<text x="538.89" y="100.7" textLength="30.05" lengthAdjust="spacingAndGlyphs" style='fill:#22d18c;;stroke:#22d18c;stroke-width:0.1px'>0.00</text>
<text x="577.01" y="100.7" textLength="30.00" lengthAdjust="spacingAndGlyphs" style='fill:#fb5255;;stroke:#fb5255;stroke-width:0.1px'>0.00</text>
<text x="1456.80" y="59.8" textLength="27.31" lengthAdjust="spacingAndGlyphs" style='fill:#131722;font-size:15.5px;stroke:#131722;stroke-width:0.1px'>USD</text>
<text x="1452.01" y="373.7" textLength="39.26" lengthAdjust="spacingAndGlyphs" style='fill:#b5ece1;;stroke:#b5ece1;stroke-width:0.3px'>15:50</text>
<text x="1451.44" y="511.7" textLength="59.94" lengthAdjust="spacingAndGlyphs" style='fill:#ffffff;;stroke:#ffffff;stroke-width:0.3px'>2,439.36</text>
<text x="1451.73" y="550.6" textLength="59.77" lengthAdjust="spacingAndGlyphs" style='fill:#ffffff;;stroke:#ffffff;stroke-width:0.3px'>2,410.93</text>
<text x="14.86" y="735.6" textLength="7.99" lengthAdjust="spacingAndGlyphs" style=';stroke:#131722;stroke-width:0.1px'>5</text>
<text x="243.01" y="735.6" textLength="16.37" lengthAdjust="spacingAndGlyphs" style=';stroke:#131722;stroke-width:0.1px'>16</text>
<text x="479.37" y="735.6" textLength="16.89" lengthAdjust="spacingAndGlyphs" style=';stroke:#131722;stroke-width:0.1px'>17</text>
<text x="715.37" y="735.6" textLength="17.14" lengthAdjust="spacingAndGlyphs" style=';stroke:#131722;stroke-width:0.1px'>18</text>
<text x="1187.97" y="735.6" textLength="17.01" lengthAdjust="spacingAndGlyphs" style=';stroke:#131722;stroke-width:0.1px'>20</text>
<text x="1423.75" y="735.6" textLength="17.68" lengthAdjust="spacingAndGlyphs" style=';stroke:#131722;stroke-width:0.1px'>21</text>
<text x="951.56" y="735.6" textLength="17.59" lengthAdjust="spacingAndGlyphs" style='fill:#131722;font-weight:bold;stroke:#131722;stroke-width:0.1px'>19</text>
<text x="42.23" y="775.8" textLength="87.67" lengthAdjust="spacingAndGlyphs" style='fill:#131722;font-size:15.5px;stroke:#131722;stroke-width:0.1px'>TradingView</text>
<text x="465.00" y="80.19999999999999" textLength="8.97" lengthAdjust="spacingAndGlyphs" style='fill:#131722;font-size:14px;font-family:"DejaVu Sans",sans-serif;stroke:#131722;stroke-width:0.35px'>∅</text>
<text x="484.00" y="80.19999999999999" textLength="9.37" lengthAdjust="spacingAndGlyphs" style='fill:#131722;font-size:14px;font-family:"DejaVu Sans",sans-serif;stroke:#131722;stroke-width:0.35px'>∅</text>
<text x="425.19" y="101.3" textLength="8.89" lengthAdjust="spacingAndGlyphs" style='fill:#131722;font-size:14px;font-family:"DejaVu Sans",sans-serif;stroke:#131722;stroke-width:0.35px'>∅</text>
<text x="443.88" y="101.3" textLength="9.37" lengthAdjust="spacingAndGlyphs" style='fill:#131722;font-size:14px;font-family:"DejaVu Sans",sans-serif;stroke:#131722;stroke-width:0.35px'>∅</text>
<text x="44.48" y="288.1" textLength="9.99" lengthAdjust="spacingAndGlyphs" style='fill:#ffffff;font-size:15.8px;stroke:#fff;stroke-width:0.4px'>B</text>
<text x="172.48" y="368.7" textLength="9.99" lengthAdjust="spacingAndGlyphs" style='fill:#ffffff;font-size:15.8px;stroke:#fff;stroke-width:0.4px'>B</text>
<text x="266.48" y="365.8" textLength="9.99" lengthAdjust="spacingAndGlyphs" style='fill:#ffffff;font-size:15.8px;stroke:#fff;stroke-width:0.4px'>B</text>
<text x="418.48" y="287.8" textLength="9.99" lengthAdjust="spacingAndGlyphs" style='fill:#ffffff;font-size:15.8px;stroke:#fff;stroke-width:0.4px'>B</text>
<text x="591.48" y="426.8" textLength="9.99" lengthAdjust="spacingAndGlyphs" style='fill:#ffffff;font-size:15.8px;stroke:#fff;stroke-width:0.4px'>B</text>
<text x="699.48" y="431.1" textLength="9.99" lengthAdjust="spacingAndGlyphs" style='fill:#ffffff;font-size:15.8px;stroke:#fff;stroke-width:0.4px'>B</text>
<text x="758.48" y="473.1" textLength="9.99" lengthAdjust="spacingAndGlyphs" style='fill:#ffffff;font-size:15.8px;stroke:#fff;stroke-width:0.4px'>B</text>
<text x="999.48" y="550.0" textLength="9.99" lengthAdjust="spacingAndGlyphs" style='fill:#ffffff;font-size:15.8px;stroke:#fff;stroke-width:0.4px'>B</text>
<text x="1117.48" y="490.0" textLength="9.99" lengthAdjust="spacingAndGlyphs" style='fill:#ffffff;font-size:15.8px;stroke:#fff;stroke-width:0.4px'>B</text>
<g fill="#131722"><path d="M13 764h9.9v11.9h-5.2v-6.7H13z"/><circle cx="26.9" cy="766.6" r="2.6"/><path d="M31.3 764h5.9l-4.7 11.9h-5.6z"/></g>
</svg></body></html>
